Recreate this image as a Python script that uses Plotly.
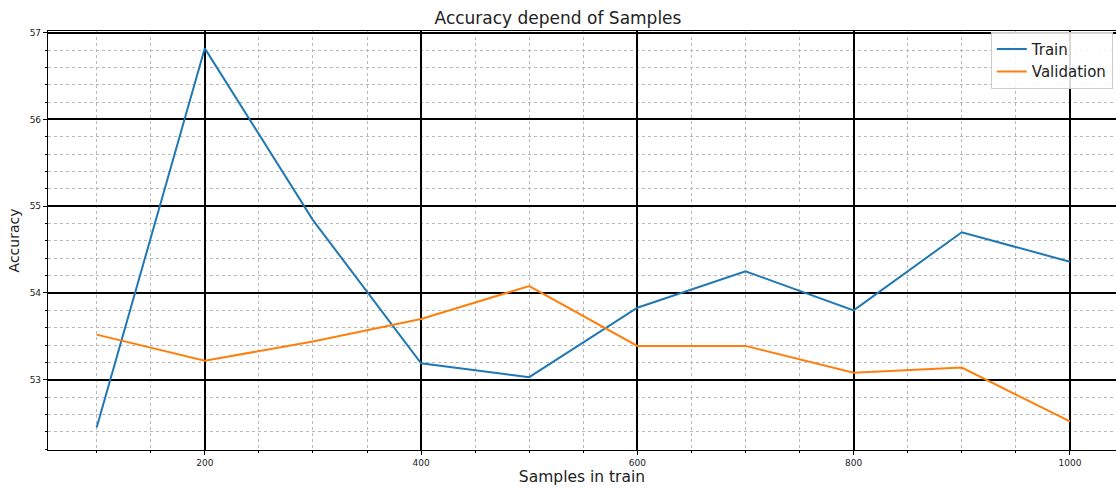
import plotly.graph_objects as go

samples = [100, 200, 300, 400, 500, 600, 700, 800, 900, 1000]
train_acc = [52.45, 56.82, 54.84, 53.19, 53.03, 53.83, 54.25, 53.80, 54.70, 54.36]
val_acc = [53.52, 53.22, 53.44, 53.70, 54.08, 53.39, 53.39, 53.08, 53.14, 52.52]
x_ticks = [200, 400, 600, 800, 1000]
y_ticks = [53, 54, 55, 56, 57]

fig = go.Figure()
fig.add_trace(go.Scatter(x=samples, y=train_acc, mode="lines", name="Train",
                         line=dict(color="#1f77b4", width=2)))
fig.add_trace(go.Scatter(x=samples, y=val_acc, mode="lines", name="Validation",
                         line=dict(color="#ff7f0e", width=2)))

font_family = "DejaVu Sans"
fig.update_layout(
    width=1116, height=488,
    margin=dict(l=48, r=0, t=31, b=38),
    paper_bgcolor="white", plot_bgcolor="white",
    font=dict(family=font_family, color="#222"),
    title=dict(text="Accuracy depend of Samples", x=0.5, xanchor="center",
               y=0.962, yanchor="middle", font=dict(size=17, color="#222")),
    legend=dict(x=0.997, xanchor="right", y=0.998, yanchor="top",
                bgcolor="rgba(255,255,255,0.85)", bordercolor="#cccccc", borderwidth=1,
                font=dict(size=15, color="#222"), tracegroupgap=0),
    showlegend=True,
)
fig.update_xaxes(
    range=[55, 1042.6], tickvals=x_ticks, ticktext=[str(v) for v in x_ticks],
    tickfont=dict(size=9), ticks="outside", ticklen=4, tickcolor="black",
    showline=True, linecolor="black", linewidth=1.2, mirror=True,
    showgrid=True, gridcolor="black", gridwidth=1.6,
    minor=dict(dtick=50, tick0=0, showgrid=True, gridcolor="#b8b8b8", griddash="dot",
               gridwidth=1, ticks="outside", ticklen=2, tickcolor="black"),
    title=dict(text="Samples in train", font=dict(size=15.5, color="#222"), standoff=4),
    zeroline=False,
)
fig.update_yaxes(
    range=[52.19, 57.02], tickvals=y_ticks, ticktext=[str(v) for v in y_ticks],
    tickfont=dict(size=9), ticks="outside", ticklen=4, tickcolor="black",
    showline=True, linecolor="black", linewidth=1.2, mirror=True,
    showgrid=True, gridcolor="black", gridwidth=1.6,
    minor=dict(dtick=0.2, tick0=0, showgrid=True, gridcolor="#b8b8b8", griddash="dot",
               gridwidth=1, ticks="outside", ticklen=2, tickcolor="black"),
    title=dict(text="Accuracy", font=dict(size=14, color="#222"), standoff=6),
    zeroline=False,
)

fig.write_html("out.html")
